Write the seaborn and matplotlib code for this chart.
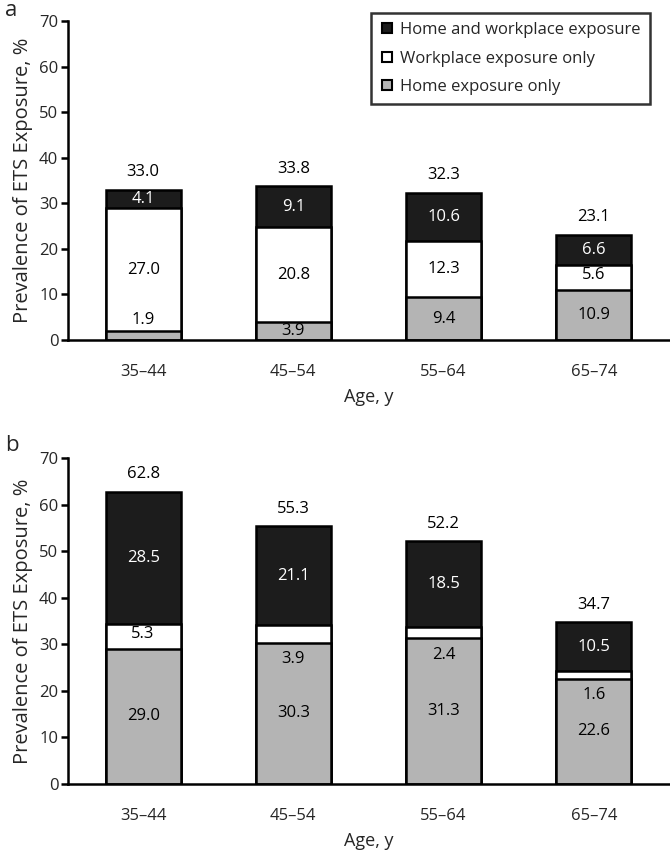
import matplotlib
matplotlib.use("Agg")
import matplotlib.pyplot as plt
from matplotlib.lines import Line2D
import seaborn as sns
import pandas as pd
import numpy as np

ages = ["35\u201344", "45\u201354", "55\u201364", "65\u201374"]
series = ["Home and workplace exposure", "Workplace exposure only", "Home exposure only"]

# Panel a
a_home = [1.9, 3.9, 9.4, 10.9]
a_work = [27.0, 20.8, 12.3, 5.6]
a_both = [4.1, 9.1, 10.6, 6.6]
a_total = [33.0, 33.8, 32.3, 23.1]

# Panel b
b_home = [29.0, 30.3, 31.3, 22.6]
b_work = [5.3, 3.9, 2.4, 1.6]
b_both = [28.5, 21.1, 18.5, 10.5]
b_total = [62.8, 55.3, 52.2, 34.7]

yticks = [0, 10, 20, 30, 40, 50, 60, 70]

sns.set_theme(style="white")
plt.rcParams["font.family"] = ["Open Sans", "DejaVu Sans"]

C_BLACK = "#1c1c1c"
C_WHITE = "#ffffff"
C_GRAY = "#b4b4b4"
FS = 12

fig = plt.figure(figsize=(6.70, 8.52), dpi=100)
ax_a = fig.add_axes([68 / 670, 1 - 340 / 852, 601 / 670, 319 / 852])
ax_b = fig.add_axes([68 / 670, 1 - 784 / 852, 601 / 670, 326 / 852])


def draw(ax, home, work, both, total):
    df = pd.DataFrame({"age": ages, "home": home, "work": work, "both": both, "total": total})
    df["cum_work"] = df["home"] + df["work"]
    df["cum_all"] = df["cum_work"] + df["both"]
    for col, color in [("cum_all", C_BLACK), ("cum_work", C_WHITE), ("home", C_GRAY)]:
        sns.barplot(data=df, x="age", y=col, order=ages, color=color, saturation=1,
                    width=0.5, edgecolor="black", linewidth=1.8, ax=ax, errorbar=None)
    for i in range(len(ages)):
        h, w, b, t = home[i], work[i], both[i], total[i]
        yh = h + 2.5 if h < 3 else h / 2
        ax.text(i, yh, f"{h:.1f}", ha="center", va="center", fontsize=FS, color="black")
        yw = h - 3.5 if w < 5 else h + w / 2 + (0.5 if w < 6 else 0)
        ax.text(i, yw, f"{w:.1f}", ha="center", va="center", fontsize=FS, color="black")
        ax.text(i, h + w + b / 2, f"{b:.1f}", ha="center", va="center", fontsize=FS, color="white")
        ax.annotate(f"{t:.1f}", xy=(i, t), xytext=(0, 12.5), textcoords="offset points",
                    ha="center", va="center", fontsize=FS, color="black")

    ax.set_xlim(-0.5, 3.5)
    ax.set_ylim(0, 70)
    ax.set_yticks(yticks)
    ax.set_yticklabels([str(v) for v in yticks], fontsize=FS)
    ax.set_xticks(range(len(ages)))
    ax.set_xticklabels(ages, fontsize=FS)
    ax.set_xticks([0.5, 1.5, 2.5, 3.5], minor=True)
    ax.tick_params(axis="x", which="major", length=0, pad=17)
    ax.tick_params(axis="x", which="minor", length=5, width=1.8, direction="out", color="black")
    ax.tick_params(axis="y", length=5, width=1.8, direction="out", color="black", pad=2, left=True)
    for s in ["top", "right"]:
        ax.spines[s].set_visible(False)
    for s in ["left", "bottom"]:
        ax.spines[s].set_color("black")
        ax.spines[s].set_linewidth(1.8)
    ax.set_xlabel("Age, y", fontsize=FS + 1, labelpad=6)
    ax.set_ylabel("Prevalence of ETS Exposure, %", fontsize=14.5, labelpad=4)


draw(ax_a, a_home, a_work, a_both, a_total)
draw(ax_b, b_home, b_work, b_both, b_total)

handles = [Line2D([], [], marker="s", linestyle="none", markersize=7,
                  markerfacecolor=c, markeredgecolor="black", markeredgewidth=1.5)
           for c in [C_BLACK, C_WHITE, C_GRAY]]
leg = ax_a.legend(handles, series, loc="upper right", bbox_to_anchor=(650 / 670, 1 - 13 / 852),
                  bbox_transform=fig.transFigure, borderaxespad=0, frameon=True, fancybox=False,
                  fontsize=FS, handlelength=0.8, handletextpad=0.4, labelspacing=0.75,
                  borderpad=0.55)
leg.get_frame().set_edgecolor("black")
leg.get_frame().set_linewidth(1.8)

fig.text(5 / 670, 1 - 10 / 852, "a", fontsize=16, ha="left", va="center")
fig.text(5 / 670, 1 - 445 / 852, "b", fontsize=16, ha="left", va="center")

fig.savefig("out.png", dpi=100)
